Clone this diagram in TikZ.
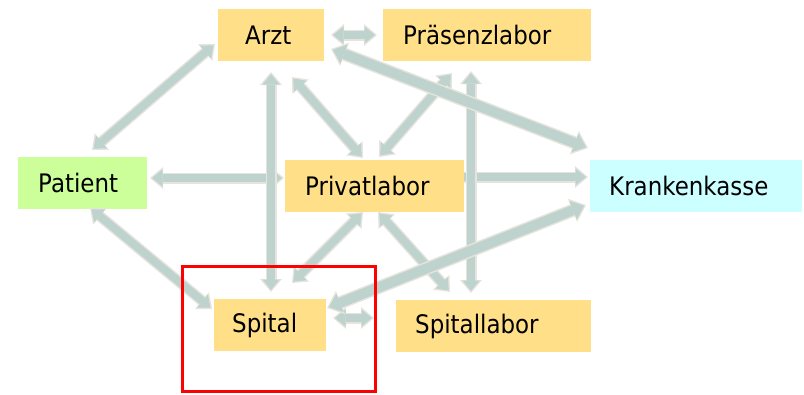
\documentclass[tikz,border=0pt]{standalone}
\usepackage{fontspec}
\setmainfont{DejaVu Sans}[FakeStretch=0.9]
\usetikzlibrary{arrows.meta}
\definecolor{boxyellow}{HTML}{FFE089}
\definecolor{boxgreen}{HTML}{CCFF99}
\definecolor{boxcyan}{HTML}{CCFFFF}
\definecolor{arrowfill}{HTML}{BED3CE}
\definecolor{arrowedge}{HTML}{E6E4DC}
\definecolor{focusred}{HTML}{FF0000}
\tikzset{
  box/.style={anchor=north west, minimum height=52pt, inner ysep=0pt, align=left,
    font=\fontsize{25.5}{30}\selectfont, text=black},
  Ano/.tip={Triangle[width=22pt,length=13pt,line width=0pt]},
  Ani/.tip={Triangle[width=17pt,length=10.5pt,line width=0pt]},
  Ato/.tip={Triangle[width=25pt,length=14.5pt,line width=0pt]},
  Ati/.tip={Triangle[width=20pt,length=12pt,line width=0pt]},
  arrno/.style={draw=arrowedge, fill=arrowedge, line width=11pt},
  arrni/.style={draw=arrowfill, fill=arrowfill, line width=8pt},
  arrto/.style={draw=arrowedge, fill=arrowedge, line width=13pt},
  arrti/.style={draw=arrowfill, fill=arrowfill, line width=10pt},
  focus/.style={draw=focusred, line width=3pt},
}
\newcommand\linkboth[3]{%
  \draw[{A#1o}-{A#1o}, arr#1o] (#2) -- (#3);
  \draw[shorten <=2pt, shorten >=2pt, {A#1i}-{A#1i}, arr#1i] (#2) -- (#3);
}
\newcommand\linkone[3]{%
  \draw[-{A#1o}, arr#1o] (#2) -- (#3);
  \draw[shorten >=2pt, -{A#1i}, arr#1i] (#2) -- (#3);
}
\begin{document}
\begin{tikzpicture}[x=1pt, y=-1pt]
\useasboundingbox (0,0) rectangle (804,394);
% boxes
\node[box, fill=boxyellow, inner xsep=27pt, text width=52pt] (arzt) at (218,9) {Arzt};
\node[box, fill=boxyellow, inner xsep=20pt, text width=168pt] (praes) at (383,9) {Präsenzlabor};
\node[box, fill=boxgreen, inner xsep=20pt, text width=89pt] (patient) at (18,157) {Patient};
\node[box, fill=boxyellow, inner xsep=20pt, text width=139pt] (privat) at (285,160) {Privatlabor};
\node[box, fill=boxcyan, inner xsep=19pt, text width=174pt] (kasse) at (590,160) {Krankenkasse};
\node[box, fill=boxyellow, inner xsep=18pt, text width=76pt] (spital) at (214,299) {Spital};
\node[box, fill=boxyellow, inner xsep=19pt, text width=157pt] (spitallabor) at (396,300) {Spitallabor};
% connector end points
\coordinate (ap1) at (331,35);  \coordinate (ap2) at (377,35);
\coordinate (pa1) at (92,150);  \coordinate (pa2) at (215,44);
\coordinate (pp1) at (150,178); \coordinate (pp2) at (284,178);
\coordinate (ps1) at (90,208);  \coordinate (ps2) at (212,309);
\coordinate (as1) at (271,72);  \coordinate (as2) at (271,292);
\coordinate (av1) at (292,77);  \coordinate (av2) at (363,158);
\coordinate (vp1) at (379,157); \coordinate (vp2) at (452,73);
\coordinate (pl1) at (471,71);  \coordinate (pl2) at (471,293);
\coordinate (ak1) at (331,49);  \coordinate (ak2) at (588,148);
\coordinate (vk1) at (464,177); \coordinate (vk2) at (588,177);
\coordinate (sk1) at (327,308); \coordinate (sk2) at (586,205);
\coordinate (vs1) at (363,212); \coordinate (vs2) at (292,283);
\coordinate (vl1) at (378,212); \coordinate (vl2) at (450,292);
\coordinate (sl1) at (333,318); \coordinate (sl2) at (374,318);
% connectors
\linkboth{n}{ap1}{ap2}
\linkboth{n}{pa1}{pa2}
\linkboth{n}{pp1}{pp2}
\linkboth{n}{ps1}{ps2}
\linkboth{n}{as1}{as2}
\linkboth{n}{av1}{av2}
\linkboth{n}{vp1}{vp2}
\linkone{n}{vk1}{vk2}
\linkboth{n}{pl1}{pl2}
\linkboth{n}{vs1}{vs2}
\linkboth{n}{vl1}{vl2}
\linkboth{n}{sl1}{sl2}
\linkboth{t}{ak1}{ak2}
\linkboth{t}{sk1}{sk2}
% focus frame
\draw[focus] (182,266) rectangle (375,391);
\end{tikzpicture}
\end{document}
